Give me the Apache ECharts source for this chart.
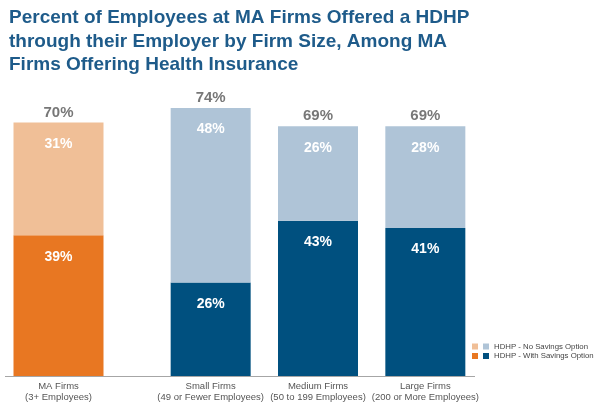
<!DOCTYPE html>
<html>
<head>
<meta charset="utf-8">
<script src="https://cdn.jsdelivr.net/npm/echarts@6/dist/echarts.min.js"></script>
<style>html,body{margin:0;padding:0;background:#fff;}#c{width:600px;height:412px;}</style>
</head>
<body>
<div id="c"></div>
<script>
// ---- data ----
const titleText = 'Percent of Employees at MA Firms Offered a HDHP\nthrough their Employer by Firm Size, Among MA\nFirms Offering Health Insurance';
const maCategory = ['MA Firms\n(3+ Employees)'];
const sizeCategories = ['Small Firms\n(49 or Fewer Employees)', 'Medium Firms\n(50 to 199 Employees)', 'Large Firms\n(200 or More Employees)'];
const maWithSavings = [39];
const maNoSavings = [31];
const sizeWithSavings = [26, 43, 41];
const sizeNoSavings = [48, 26, 28];
const seriesNoSavings = 'HDHP - No Savings Option';
const seriesWithSavings = 'HDHP - With Savings Option';

const maTotals = maWithSavings.map((v, i) => v + maNoSavings[i]);
const sizeTotals = sizeWithSavings.map((v, i) => v + sizeNoSavings[i]);

const C = {
  orangeDark: '#E87722', orangeLight: '#F0BF97',
  blueDark: '#00507F', blueLight: '#AFC4D7',
  title: '#1E5B8A', text: '#555555'
};

const chart = echarts.init(document.getElementById('c'), null, {renderer: 'canvas'});

const innerLabel = {
  show: true, position: 'insideTop', distance: 14.5, color: '#fff',
  fontFamily: 'Liberation Sans', fontWeight: 'bold', fontSize: 14, lineHeight: 14,
  formatter: p => p.value + '%'
};
const totalLabel = (arr) => ({
  show: true, position: 'top', distance: 2.5, color: C.text,
  fontFamily: 'Liberation Sans', fontWeight: 'bold', fontSize: 15, lineHeight: 15,
  formatter: p => arr[p.dataIndex] + '%'
});
const xAxisCommon = {
  type: 'category',
  axisLine: {show: false}, axisTick: {show: false},
  axisLabel: {color: C.text, fontFamily: 'Liberation Sans', fontSize: 9.5, lineHeight: 11.3, margin: 3.5, interval: 0}
};
const yAxisCommon = {type: 'value', min: 0, max: 100, show: false};

chart.setOption({
  animation: false,
  backgroundColor: '#fff',
  title: {
    text: titleText, left: 9, top: 6.5, padding: 0,
    textStyle: {color: C.title, fontFamily: 'Liberation Sans', fontWeight: 'bold', fontSize: 19, lineHeight: 23.5}
  },
  legend: [
    {
      data: ['MA ' + seriesNoSavings, 'MA ' + seriesWithSavings],
      orient: 'vertical', left: 472, top: 342, padding: 0,
      itemWidth: 6, itemHeight: 6, itemGap: 0.5, icon: 'rect',
      formatter: () => ' ', selectedMode: false,
      textStyle: {fontSize: 7.8, lineHeight: 9}
    },
    {
      data: [seriesNoSavings, seriesWithSavings],
      orient: 'vertical', left: 483, top: 342, padding: 0,
      itemWidth: 6, itemHeight: 6, itemGap: 0.5, icon: 'rect', selectedMode: false,
      textStyle: {fontSize: 7.8, lineHeight: 9, color: '#444', fontFamily: 'Liberation Sans'}
    }
  ],
  grid: [
    {left: 5, width: 107, top: 13.5, bottom: 35},
    {left: 157, width: 322, top: 13.5, bottom: 35}
  ],
  xAxis: [
    Object.assign({gridIndex: 0, data: maCategory}, xAxisCommon),
    Object.assign({gridIndex: 1, data: sizeCategories}, xAxisCommon)
  ],
  yAxis: [
    Object.assign({gridIndex: 0}, yAxisCommon),
    Object.assign({gridIndex: 1}, yAxisCommon)
  ],
  graphic: [{
    type: 'line', z: 100,
    shape: {x1: 5, y1: 376.5, x2: 475, y2: 376.5},
    style: {stroke: '#A6A6A6', lineWidth: 1}
  }],
  series: [
    {name: 'MA ' + seriesWithSavings, type: 'bar', stack: 'ma', xAxisIndex: 0, yAxisIndex: 0,
      barWidth: 90, data: maWithSavings, itemStyle: {color: C.orangeDark}, label: innerLabel},
    {name: 'MA ' + seriesNoSavings, type: 'bar', stack: 'ma', xAxisIndex: 0, yAxisIndex: 0,
      barWidth: 90, data: maNoSavings, itemStyle: {color: C.orangeLight}, label: innerLabel},
    {name: 'maTotal', type: 'scatter', xAxisIndex: 0, yAxisIndex: 0, symbolSize: 0,
      data: maTotals, label: totalLabel(maTotals), silent: true},
    {name: seriesWithSavings, type: 'bar', stack: 'size', xAxisIndex: 1, yAxisIndex: 1,
      barWidth: 80, data: sizeWithSavings, itemStyle: {color: C.blueDark}, label: innerLabel},
    {name: seriesNoSavings, type: 'bar', stack: 'size', xAxisIndex: 1, yAxisIndex: 1,
      barWidth: 80, data: sizeNoSavings, itemStyle: {color: C.blueLight}, label: innerLabel},
    {name: 'sizeTotal', type: 'scatter', xAxisIndex: 1, yAxisIndex: 1, symbolSize: 0,
      data: sizeTotals, label: totalLabel(sizeTotals), silent: true}
  ]
});
</script>
</body>
</html>
